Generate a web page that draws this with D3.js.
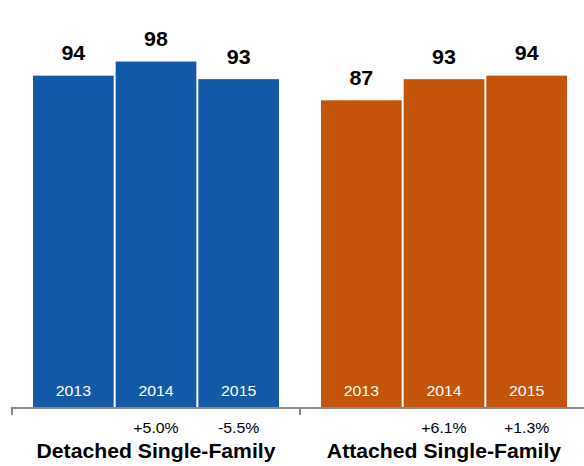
<!DOCTYPE html>
<html>
<head>
<meta charset="utf-8">
<script src="https://cdn.jsdelivr.net/npm/d3@7"></script>
<style>
  html, body { margin: 0; padding: 0; background: #fff; }
  svg { display: block; font-family: "Liberation Sans", Arial, Helvetica, sans-serif; }
</style>
</head>
<body>
<svg id="chart" width="584" height="466"></svg>
<script>
// Home price index by housing type, 2013–2015
const groups = ["Detached Single-Family", "Attached Single-Family"];
const years = ["2013", "2014", "2015"];
const detachedValues = [94, 98, 93];
const attachedValues = [87, 93, 94];
const detachedChange = ["", "+5.0%", "-5.5%"];
const attachedChange = ["", "+6.1%", "+1.3%"];
const groupColors = ["#125aa8", "#c4540a"];

const seriesValues = [detachedValues, attachedValues];
const seriesChange = [detachedChange, attachedChange];

const svg = d3.select("#chart");
const baseY = 407;

const x0 = d3.scaleBand()
  .domain(groups)
  .range([33, 567])
  .paddingInner(42 / 288)
  .paddingOuter(0);

const x1 = d3.scaleBand()
  .domain(years)
  .range([0, x0.bandwidth()])
  .paddingInner(2 / 82.67)
  .paddingOuter(0);

const y = d3.scaleLinear()
  .domain([0, 100])
  .range([baseY, 54.5]);

const halfGap = x0.step() * x0.paddingInner() / 2;

// place text at (x, y) with a slightly widened typeface
function place(sel, fx, fy, sx) {
  sel.attr("transform", d => `translate(${fx(d)},${fy(d)}) scale(${sx},1)`);
}

groups.forEach((g, gi) => {
  const grp = svg.append("g").attr("transform", `translate(${x0(g)},0)`);
  const rows = years.map((yr, i) => ({ year: yr, value: seriesValues[gi][i], change: seriesChange[gi][i] }));
  const cx = d => x1(d.year) + x1.bandwidth() / 2;

  grp.selectAll("rect")
    .data(rows)
    .join("rect")
    .attr("x", d => x1(d.year))
    .attr("y", d => y(d.value))
    .attr("width", x1.bandwidth())
    .attr("height", d => baseY - y(d.value))
    .attr("fill", groupColors[gi]);

  // value labels above bars
  grp.selectAll("text.val")
    .data(rows)
    .join("text")
    .attr("class", "val")
    .call(place, cx, d => y(d.value) - 15.5, 1.1)
    .attr("text-anchor", "middle")
    .attr("font-size", 19.5)
    .attr("font-weight", "bold")
    .attr("fill", "#000")
    .text(d => d.value);

  // year labels inside bars
  grp.selectAll("text.yr")
    .data(rows)
    .join("text")
    .attr("class", "yr")
    .call(place, cx, () => 396.3, 1.1)
    .attr("text-anchor", "middle")
    .attr("font-size", 14.4)
    .attr("fill", "#fff")
    .text(d => d.year);

  // year-over-year change below axis
  grp.selectAll("text.chg")
    .data(rows.filter(d => d.change))
    .join("text")
    .attr("class", "chg")
    .call(place, cx, () => 433.3, 1.1)
    .attr("text-anchor", "middle")
    .attr("font-size", 14.4)
    .attr("fill", "#000")
    .text(d => d.change);

  // group title
  grp.append("text")
    .datum(g)
    .call(place, () => x0.bandwidth() / 2, () => 457.7, 1.06)
    .attr("text-anchor", "middle")
    .attr("font-size", 20)
    .attr("font-weight", "bold")
    .attr("fill", "#000")
    .text(g);
});

// baseline axis with group separators
const axisG = svg.append("g").attr("stroke", "#8a8a8a");
axisG.append("line")
  .attr("x1", x0(groups[0]) - halfGap)
  .attr("x2", 584)
  .attr("y1", baseY + 1)
  .attr("y2", baseY + 1)
  .attr("stroke-width", 2);
axisG.selectAll("line.tick")
  .data(groups)
  .join("line")
  .attr("class", "tick")
  .attr("x1", g => x0(g) - halfGap)
  .attr("x2", g => x0(g) - halfGap)
  .attr("y1", baseY)
  .attr("y2", 415)
  .attr("stroke-width", 2);
</script>
</body>
</html>
